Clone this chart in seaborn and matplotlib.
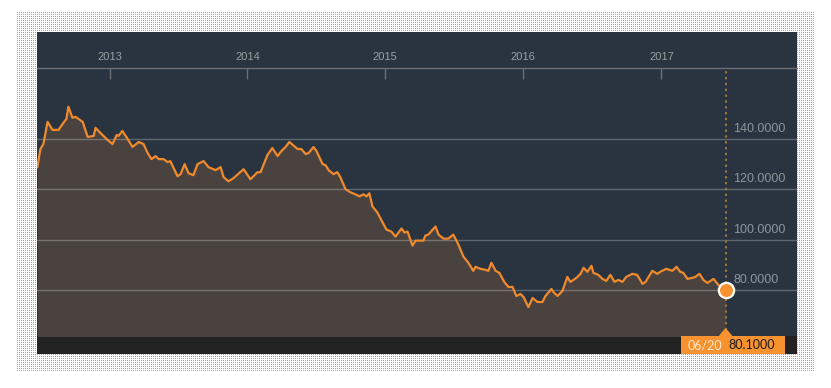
import numpy as np
import pandas as pd
import matplotlib
matplotlib.use("Agg")
import matplotlib.pyplot as plt
import matplotlib.dates as mdates
import matplotlib.transforms as mtransforms
from matplotlib.patches import Rectangle, Polygon
import seaborn as sns

# price series
dates = [
    "2012-06-24", "2012-07-02", "2012-07-10", "2012-07-21", "2012-08-03", "2012-08-19",
    "2012-08-30", "2012-09-09", "2012-09-14", "2012-09-25", "2012-10-03", "2012-10-22",
    "2012-11-04", "2012-11-20", "2012-11-25", "2012-12-13", "2012-12-27", "2013-01-09",
    "2013-01-20", "2013-01-25", "2013-02-04", "2013-02-18", "2013-03-03", "2013-03-19",
    "2013-04-01", "2013-04-12", "2013-04-22", "2013-05-03", "2013-05-11", "2013-05-24",
    "2013-06-04", "2013-06-11", "2013-06-30", "2013-07-08", "2013-07-19", "2013-07-29",
    "2013-08-11", "2013-08-22", "2013-09-07", "2013-09-20", "2013-10-09", "2013-10-22",
    "2013-10-30", "2013-11-12", "2013-11-25", "2013-12-22", "2014-01-09", "2014-01-28",
    "2014-02-05", "2014-02-23", "2014-03-08", "2014-03-22", "2014-04-01", "2014-04-12",
    "2014-04-22", "2014-05-14", "2014-05-24", "2014-06-04", "2014-06-12", "2014-06-25",
    "2014-07-03", "2014-07-19", "2014-07-27", "2014-08-04", "2014-08-17", "2014-08-27",
    "2014-09-04", "2014-09-18", "2014-10-01", "2014-10-14", "2014-10-25", "2014-11-04",
    "2014-11-12", "2014-11-20", "2014-11-28", "2014-12-11", "2014-12-25", "2015-01-04",
    "2015-01-17", "2015-01-28", "2015-02-13", "2015-02-21", "2015-03-01", "2015-03-14",
    "2015-03-22", "2015-04-12", "2015-04-17", "2015-04-25", "2015-05-14", "2015-05-22",
    "2015-06-04", "2015-06-17", "2015-06-30", "2015-07-11", "2015-07-16", "2015-07-27",
    "2015-08-09", "2015-08-22", "2015-08-28", "2015-09-10", "2015-09-23", "2015-10-01",
    "2015-10-09", "2015-10-20", "2015-10-30", "2015-11-12", "2015-11-23", "2015-12-04",
    "2015-12-14", "2015-12-25", "2016-01-02", "2016-01-15", "2016-01-26", "2016-02-08",
    "2016-02-21", "2016-02-29", "2016-03-16", "2016-03-21", "2016-04-01", "2016-04-14",
    "2016-04-27", "2016-05-05", "2016-05-21", "2016-06-01", "2016-06-09", "2016-06-19",
    "2016-06-30", "2016-07-05", "2016-07-18", "2016-07-29", "2016-08-08", "2016-08-19",
    "2016-08-30", "2016-09-09", "2016-09-20", "2016-09-30", "2016-10-16", "2016-10-29",
    "2016-11-12", "2016-11-20", "2016-12-08", "2016-12-21", "2016-12-29", "2017-01-14",
    "2017-01-30", "2017-02-10", "2017-02-20", "2017-02-28", "2017-03-11", "2017-03-24",
    "2017-04-01", "2017-04-12", "2017-04-22", "2017-05-03", "2017-05-19", "2017-06-01",
    "2017-06-20",
]
values = [
    128.8, 136.0, 138.0, 146.8, 143.6, 143.6, 146.0, 148.0, 152.8, 148.4, 148.8, 146.8,
    140.8, 141.2, 144.4, 141.6, 139.6, 138.0, 141.6, 141.2, 143.2, 140.0, 136.8, 138.8,
    138.0, 134.4, 132.0, 133.2, 132.0, 132.0, 130.8, 131.2, 125.2, 126.0, 130.0, 126.4,
    125.6, 130.0, 131.2, 128.8, 127.6, 128.8, 124.8, 123.2, 124.4, 128.0, 124.0, 126.8,
    126.8, 133.6, 136.4, 133.2, 135.2, 136.8, 138.8, 136.0, 136.0, 134.0, 134.4, 136.8,
    135.2, 130.0, 129.6, 127.6, 126.0, 126.8, 124.8, 120.0, 118.8, 118.0, 117.2, 118.0,
    117.2, 118.4, 113.2, 110.8, 106.8, 104.0, 103.2, 101.2, 104.4, 102.8, 103.2, 97.6,
    99.6, 99.6, 101.6, 102.0, 105.2, 102.0, 100.4, 100.4, 102.0, 98.8, 97.2, 93.2,
    90.8, 87.6, 89.2, 88.4, 88.0, 87.6, 90.8, 87.6, 86.8, 83.2, 81.2, 81.2,
    77.6, 78.4, 77.2, 73.2, 76.8, 75.2, 75.2, 77.6, 80.4, 79.2, 77.6, 79.6,
    85.2, 83.2, 84.8, 86.4, 88.8, 87.2, 89.6, 86.8, 86.0, 84.4, 83.6, 86.0,
    83.2, 84.0, 83.2, 85.2, 86.4, 86.0, 82.4, 83.2, 87.6, 86.4, 87.2, 88.4,
    87.6, 89.2, 87.2, 86.8, 84.4, 84.8, 85.2, 86.4, 84.0, 82.8, 84.4, 82.0,
    80.1,
]
year_ticks = ["2013-01-01", "2014-01-01", "2015-01-01", "2016-01-01", "2017-01-01"]
year_labels = ["2013", "2014", "2015", "2016", "2017"]
y_ticks = [80, 100, 120, 140]
last_label = "06/20"
last_value_label = "80.1000"

df = pd.DataFrame({"date": pd.to_datetime(dates), "value": values})

# colours
BG = "#2a3440"
FILL = "#4a423f"
LINE = "#f08a2c"
ORANGE = "#f7922f"
STRIP = "#222222"
TXT = "#8e949b"

W, H = 831, 388
fig = plt.figure(figsize=(W / 100, H / 100), dpi=100)
fig.patch.set_facecolor("white")

# dotted frame behind the panel
pat = np.ones((360, 798, 3))
pat[::2, ::2] = [0.96, 0.56, 0.22]
fig.figimage(pat, xo=17, yo=H - 372, zorder=0)


def px_rect(x0, y0, x1, y1, color):
    # rectangle given in pixel coords measured from the top-left
    fig.add_artist(Rectangle((x0 / W, 1 - y1 / H), (x1 - x0) / W, (y1 - y0) / H,
                             transform=fig.transFigure, color=color, zorder=1, lw=0))


px_rect(37, 32, 797, 354, BG)
px_rect(37, 336, 797, 354, STRIP)

ax = fig.add_axes([37 / W, 1 - 336 / H, 760 / W, 268 / H], zorder=2)
ax.set_facecolor(BG)

ax.fill_between(df["date"], df["value"], 0, color=FILL, lw=0, zorder=1)
sns.lineplot(data=df, x="date", y="value", color=LINE, lw=1.6, ax=ax, zorder=3)

ax.set_xlim(pd.Timestamp("2012-06-23"), pd.Timestamp("2017-12-26"))
ax.set_ylim(61.7, 168.2)

# gridlines drawn over the fill, labels sitting just above them
label_tr = mtransforms.offset_copy(ax.get_yaxis_transform(), fig=fig, x=0, y=7, units="dots")
for v in y_ticks:
    ax.axhline(v, color="white", alpha=0.25, lw=1, zorder=2)
    ax.text(0.916, v, f"{v:.4f}", transform=label_tr, color=TXT, fontsize=9,
            family="Liberation Sans", va="baseline", ha="left", zorder=4)

ax.set_yticks([])
ax.xaxis.tick_top()
ax.set_xticks(pd.to_datetime(year_ticks))
ax.set_xticklabels(year_labels, family="Liberation Sans")
ax.tick_params(axis="x", direction="in", length=8, width=1, color="#6a6e73",
               labelcolor="#9a9fa5", labelsize=8, pad=4.5)
ax.set_xlabel("")
ax.set_ylabel("")
for s in ["left", "right", "bottom"]:
    ax.spines[s].set_visible(False)
ax.spines["top"].set_color("#6a6e73")
ax.spines["top"].set_linewidth(1)

# last value marker and guide line
last_d = df["date"].iloc[-1]
last_v = df["value"].iloc[-1]
ax.axvline(last_d, color="#a07a38", lw=1.4, ls=(0, (1.2, 1.8)), zorder=2)
ax.plot([last_d], [last_v], "o", ms=11, mfc=ORANGE, mec="white", mew=1.6, zorder=5)

# pointer triangle and value box below the plot
blend = mtransforms.blended_transform_factory(ax.transData, ax.transAxes)


def off(dx, dy):
    return mtransforms.offset_copy(blend, fig=fig, x=dx, y=dy, units="dots")


xd = mdates.date2num(last_d)
days_per_px = (ax.get_xlim()[1] - ax.get_xlim()[0]) / 760
ax.add_patch(Polygon([(xd - 6 * days_per_px, 0), (xd + 6 * days_per_px, 0), (xd, 7 / 268)],
                     closed=True, color=ORANGE, transform=blend, clip_on=False, zorder=5))
ax.add_patch(Rectangle((xd, 0), 104 * days_per_px, 18 / 268, color=ORANGE, lw=0,
                       transform=off(-45, -18), clip_on=False, zorder=5))
ax.text(xd, 0, last_label, transform=off(-21, -9), color="#fde6cc", fontsize=9,
        family="Lato", ha="center", va="center", clip_on=False, zorder=6)
ax.text(xd, 0, last_value_label, transform=off(26, -9), color="#1a1a1a", fontsize=9,
        family="Lato", ha="center", va="center", clip_on=False, zorder=6)

fig.savefig("out.png", dpi=100)
